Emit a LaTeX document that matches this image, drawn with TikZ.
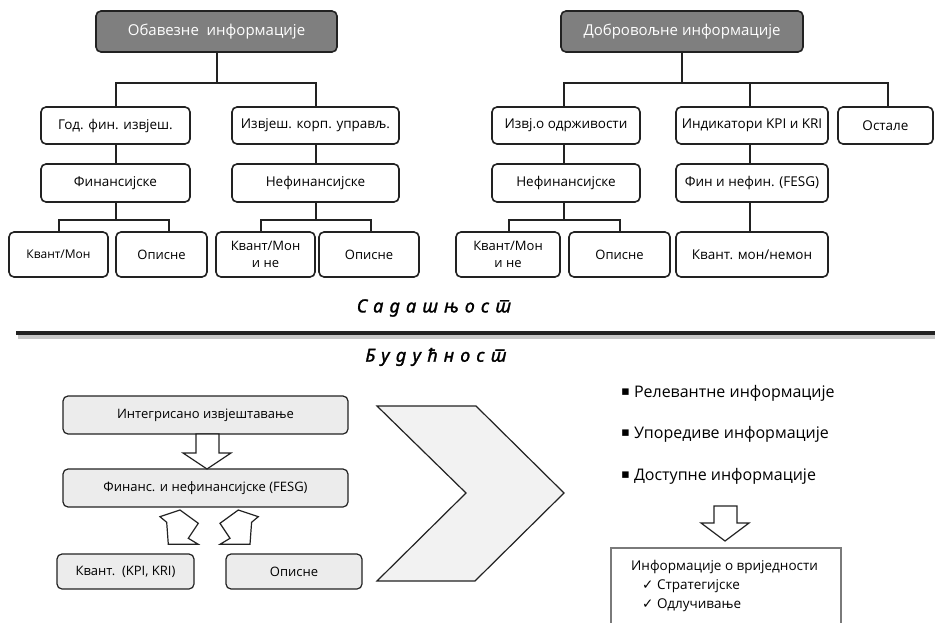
\documentclass[tikz,border=0pt]{standalone}
\usepackage{fontspec}
\setmainfont{Open Sans}
\newfontfamily\srfont[Script=Cyrillic,Language=Serbian,FakeBold=1.6,LetterSpace=34]{Noto Sans}
\newfontfamily\symfont{DejaVu Sans}
\usetikzlibrary{calc}
\definecolor{ink}{HTML}{222222}
\definecolor{darkfill}{HTML}{7F7F7F}
\definecolor{lightfill}{HTML}{ECECEC}
\definecolor{chevfill}{HTML}{F2F2F2}
\definecolor{boxgray}{HTML}{7A7A7A}
\tikzset{
 base/.style={draw=ink, line width=1.6pt, rounded corners=5pt, inner sep=1pt, align=center, text=black},
 headbox/.style={base, fill=darkfill, text=white, font=\fontsize{15}{17}\selectfont},
 midbox/.style={base, fill=white, font=\fontsize{13.5}{16}\selectfont},
 lowbox/.style={base, fill=white, font=\fontsize{13}{17}\selectfont},
 futbox/.style={base, fill=lightfill, line width=1.2pt, font=\fontsize{13}{15}\selectfont},
 conn/.style={draw=ink, line width=2pt},
 blockarrow/.style={draw=ink, line width=1.2pt, fill=white, line join=miter},
 headtext/.style={text=black, inner sep=0pt, font=\srfont\itshape\fontsize{18}{20}\selectfont},
 bullettext/.style={text=black, inner sep=0pt, anchor=west, font=\fontsize{16}{18}\selectfont},
 valtext/.style={text=black, inner sep=0pt, anchor=west, font=\fontsize{13.5}{16}\selectfont},
}
\newcommand\mkbox[7]{\node[#1,minimum width={(#4-#2)*1pt},minimum height={(#5-#3)*1pt}] (#6) at ({(#2+#4)/2},{(#3+#5)/2}) {#7};}
\newcommand\sqbul{{\symfont\fontsize{13}{14}\selectfont\raisebox{1.5pt}{▪}}\hspace{4pt}}
\newcommand\chk{{\symfont\fontsize{13.5}{14}\selectfont ✓}\hspace{3.5pt}}
\begin{document}
\begin{tikzpicture}[x=1pt,y=-1pt]
\useasboundingbox (0,0) rectangle (935,623);
\fill[white] (0,0) rectangle (935,623);
% ---------- present: mandatory
\mkbox{headbox}{96}{11}{337}{52}{T1}{Обавезне\ \ информације}
\mkbox{midbox}{41}{107}{190}{144}{A1}{Год. фин. извјеш.}
\mkbox{midbox}{232}{107}{399}{144}{A2}{Извјеш. корп. управљ.}
\mkbox{midbox}{41}{164}{190}{202}{B1}{Финансијске}
\mkbox{midbox}{232}{164}{399}{202}{B2}{Нефинансијске}
\mkbox{lowbox,font=\fontsize{12}{14}\selectfont}{9}{232}{108}{277}{C1}{Квант/Мон}
\mkbox{lowbox}{116}{232}{207}{277}{C2}{Описне}
\mkbox{lowbox}{216}{232}{315}{277}{C3}{Квант/Мон\\и не}
\mkbox{lowbox}{319}{232}{419}{277}{C4}{Описне}
\draw[conn] (T1.south) -- +(0,30) coordinate (j1);
\draw[conn] (j1) -| (A1.north);
\draw[conn] (j1) -| (A2.north);
\draw[conn] (A1.south) -- (B1.north);
\draw[conn] (A2.south) -- (B2.north);
\draw[conn] (B1.south) -- +(0,17) coordinate (j2);
\draw[conn] (j2) -| (C1.north);
\draw[conn] (j2) -| ([xshift=7.5pt]C2.north);
\draw[conn] (B2.south) -- +(0,17) coordinate (j3);
\draw[conn] (j3) -| ([xshift=-4.5pt]C3.north);
\draw[conn] (j3) -| ([xshift=2pt]C4.north);
% ---------- present: voluntary
\mkbox{headbox}{561}{11}{803}{52}{T2}{Добровољне информације}
\mkbox{midbox}{492}{107}{640}{144}{D1}{Извј.о одрживости}
\mkbox{midbox}{676}{107}{828}{144}{D2}{Индикатори KPI и KRI}
\mkbox{midbox}{838}{107}{933}{144}{D3}{Остале}
\mkbox{midbox}{492}{164}{640}{202}{E1}{Нефинансијске}
\mkbox{midbox}{676}{164}{828}{202}{E2}{Фин и нефин. (FESG)}
\mkbox{lowbox}{456}{232}{560}{277}{F1}{Квант/Мон\\и не}
\mkbox{lowbox}{569}{232}{670}{277}{F2}{Описне}
\mkbox{midbox}{676}{232}{828}{277}{F3}{Квант. мон/немон}
\draw[conn] (T2.south) -- +(0,30) coordinate (j4);
\draw[conn] (j4) -| ([xshift=-2pt]D1.north);
\draw[conn] (j4) -| ([xshift=-2pt]D2.north);
\draw[conn] (j4) -| ([xshift=2.5pt]D3.north);
\draw[conn] ([xshift=-2pt]D1.south) -- ([xshift=-2pt]E1.north);
\draw[conn] ([xshift=-2pt]D2.south) -- ([xshift=-2pt]E2.north);
\draw[conn] ([xshift=-2pt]E2.south) -- ([xshift=-2pt]F3.north);
\draw[conn] ([xshift=-2pt]E1.south) -- +(0,17) coordinate (j5);
\draw[conn] (j5) -| ([xshift=1pt]F1.north);
\draw[conn] (j5) -| (F2.north);
% ---------- divider
\node[headtext] (now) at (434,308) {Садашњост};
\draw[black!22, line width=4pt] (18,336.5) -- (935,336.5);
\draw[ink, line width=3.2pt] (16,333) -- (935,333);
\node[headtext] (fut) at (436,357) {Будућност};
% ---------- future
\mkbox{futbox}{63}{396}{348}{434}{G1}{Интегрисано извјештавање}
\mkbox{futbox}{63}{469}{348}{507}{G2}{Финанс. и нефинансијске (FESG)}
\mkbox{futbox}{57}{554}{194}{589}{G3}{Квант.\ \ (KPI, KRI)}
\mkbox{futbox}{226}{554}{362}{589}{G4}{Описне}
\draw[blockarrow] (196,434) -- (219,434) -- (219,453) -- (231,453) -- (207,469) -- (183,453) -- (196,453) -- cycle;
\draw[blockarrow] (160,516.7) -- (180,510) -- (198.3,523.3) -- (188.3,538.3) -- (198.3,544.3) -- (168.3,544.3) -- (166.7,522.3) -- cycle;
\draw[blockarrow] (258.3,516.7) -- (238.3,510) -- (220,523.3) -- (230,538.3) -- (220,544.3) -- (250,544.3) -- (251.6,522.3) -- cycle;
% chevron
\draw[draw=ink, line width=1.2pt, fill=chevfill, line join=miter] (377,406) -- (476,406) -- (564,493) -- (475,581) -- (377,581) -- (466,493) -- cycle;
% bullets
\node[bullettext] (r1) at (621,393) {\sqbul Релевантне информације};
\node[bullettext] (r2) at (621,434) {\sqbul Упоредиве информације};
\node[bullettext] (r3) at (621,476) {\sqbul Доступне информације};
\draw[blockarrow] (714,506) -- (737,506) -- (737,523) -- (749,523) -- (725,541) -- (701,523) -- (714,523) -- cycle;
\node[draw=boxgray, line width=1.5pt, minimum width=230pt, minimum height=95pt, anchor=north west, inner sep=0pt] (H) at (610,547) {};
\node[valtext] (h0) at (631,567) {Информације о вриједности};
\node[valtext] (h1) at (642,586) {\chk Стратегијске};
\node[valtext] (h2) at (642,605) {\chk Одлучивање};
\end{tikzpicture}
\end{document}
